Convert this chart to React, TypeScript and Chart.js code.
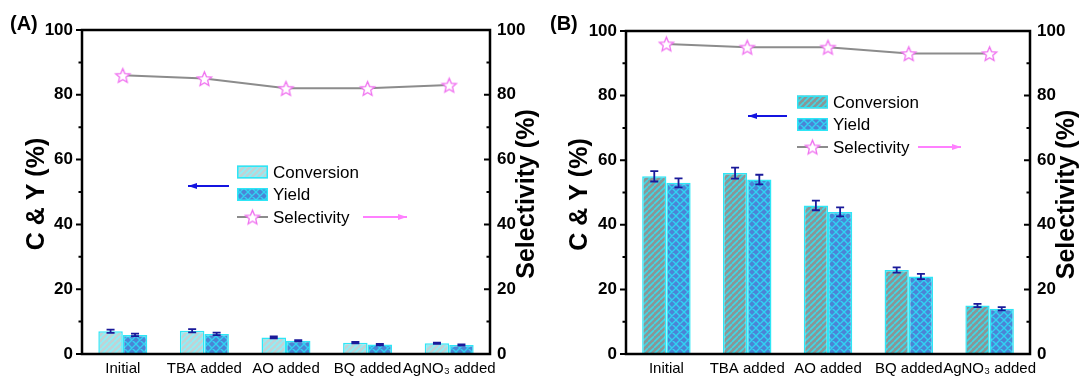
import React, { useEffect, useRef } from 'react';
import { Chart, registerables } from 'chart.js';

Chart.register(...registerables);
Chart.defaults.font.family = "'Liberation Sans', Arial, sans-serif";
Chart.defaults.color = '#000';

// ---------- data ----------
const categories = ['Initial', 'TBA added', 'AO added', 'BQ added', 'AgNO\u2083 added'];
const yTickStep = 20;
const yMinorStep = 10;

const conversionA = [7.0, 7.2, 5.1, 3.5, 3.3];
const conversionErrA = [0.5, 0.5, 0.3, 0.2, 0.2];
const yieldA = [5.9, 6.2, 4.1, 2.9, 2.8];
const yieldErrA = [0.4, 0.4, 0.2, 0.2, 0.2];
const selectivityA = [86, 85, 82, 82, 83];

const conversionB = [55, 56, 46, 26, 15];
const conversionErrB = [1.6, 1.7, 1.5, 0.8, 0.5];
const yieldB = [53, 54, 44, 24, 14];
const yieldErrB = [1.4, 1.5, 1.4, 0.8, 0.5];
const selectivityB = [96, 95, 95, 93, 93];

const legendLabels = ['Conversion', 'Yield', 'Selectivity'];
const leftTitle = 'C & Y (%)';
const rightTitle = 'Selectivity (%)';

// ---------- helpers ----------
function stripePattern(base: string, stripe: string, size = 6, lw = 1.6) {
  const c = document.createElement('canvas');
  c.width = size;
  c.height = size;
  const g = c.getContext('2d')!;
  g.fillStyle = base;
  g.fillRect(0, 0, size, size);
  g.strokeStyle = stripe;
  g.lineWidth = lw;
  g.beginPath();
  for (let k = -1; k <= 1; k++) {
    g.moveTo(k * size, size);
    g.lineTo(k * size + size, 0);
  }
  g.stroke();
  return g.createPattern(c, 'repeat')!;
}

function latticePattern(base: string, line: string, size = 8, lw = 1.4) {
  const c = document.createElement('canvas');
  c.width = size;
  c.height = size;
  const g = c.getContext('2d')!;
  g.fillStyle = base;
  g.fillRect(0, 0, size, size);
  g.strokeStyle = line;
  g.lineWidth = lw;
  g.beginPath();
  for (let k = -1; k <= 1; k++) {
    g.moveTo(k * size, size);
    g.lineTo(k * size + size, 0);
    g.moveTo(k * size, 0);
    g.lineTo(k * size + size, size);
  }
  g.stroke();
  return g.createPattern(c, 'repeat')!;
}

function starImage(color: string, r = 7.5) {
  const s = Math.ceil(r * 2 + 4);
  const c = document.createElement('canvas');
  c.width = s;
  c.height = s;
  const g = c.getContext('2d')!;
  const cx = s / 2;
  const cy = s / 2 + 0.8;
  g.beginPath();
  for (let i = 0; i < 10; i++) {
    const a = -Math.PI / 2 + (i * Math.PI) / 5;
    const rr = i % 2 === 0 ? r : r * 0.45;
    g.lineTo(cx + rr * Math.cos(a), cy + rr * Math.sin(a));
  }
  g.closePath();
  g.fillStyle = '#ffffff';
  g.fill();
  g.strokeStyle = color;
  g.lineWidth = 1.3;
  g.stroke();
  return c;
}

function arrow(ctx: CanvasRenderingContext2D, x0: number, x1: number, y: number, color: string, dir: 'left' | 'right') {
  ctx.save();
  ctx.strokeStyle = color;
  ctx.fillStyle = color;
  ctx.lineWidth = 1.8;
  ctx.beginPath();
  ctx.moveTo(x0, y);
  ctx.lineTo(x1, y);
  ctx.stroke();
  const tip = dir === 'left' ? x0 : x1;
  const back = dir === 'left' ? tip + 9 : tip - 9;
  ctx.beginPath();
  ctx.moveTo(tip, y);
  ctx.lineTo(back, y - 3);
  ctx.lineTo(back, y + 3);
  ctx.closePath();
  ctx.fill();
  ctx.restore();
}

type PanelCfg = {
  left: number;
  width: number;
  label: string;
  leftW: number;
  rightW: number;
  top: number;
  conv: number[];
  convErr: number[];
  yld: number[];
  yldErr: number[];
  sel: number[];
  convBase: string;
  convStripe: string;
  leftTitleX: number;
  rightTitleX: number;
  legendX: number;
  legendY: number;
  blueArrow: [number, number, number];
  pinkArrow: [number, number, number];
};

const panelA: PanelCfg = {
  left: 0,
  width: 540,
  label: '(A)',
  leftW: 82,
  rightW: 50,
  top: 30,
  conv: conversionA,
  convErr: conversionErrA,
  yld: yieldA,
  yldErr: yieldErrA,
  sel: selectivityA,
  convBase: '#bfd3d6',
  convStripe: '#8cf0f8',
  leftTitleX: 37,
  rightTitleX: 527,
  legendX: 237,
  legendY: 172,
  blueArrow: [188, 229, 186],
  pinkArrow: [363, 407, 217],
};

const panelB: PanelCfg = {
  left: 540,
  width: 541,
  label: '(B)',
  leftW: 86,
  rightW: 51,
  top: 31,
  conv: conversionB,
  convErr: conversionErrB,
  yld: yieldB,
  yldErr: yieldErrB,
  sel: selectivityB,
  convBase: '#8a9696',
  convStripe: '#40d8e6',
  leftTitleX: 40,
  rightTitleX: 527,
  legendX: 257,
  legendY: 102,
  blueArrow: [208, 247, 116],
  pinkArrow: [378, 421, 147],
};

const CYAN = '#2ee6f6';
const ERR = '#1a1a9a';
const LINE_GRAY = '#8c8c8c';
const STAR = '#f070f0';

function Panel({ cfg }: { cfg: PanelCfg }) {
  const ref = useRef<HTMLCanvasElement>(null);
  useEffect(() => {
    const canvas = ref.current!;
    const convPat = stripePattern(cfg.convBase, cfg.convStripe, 6, 1.6);
    const yldPat = latticePattern('#4b84d6', '#30d2f2', 8, 1.4);
    const star = starImage(STAR, 7.5);

    const decor = {
      id: 'decor',
      afterDatasetsDraw(chart: any) {
        const ctx: CanvasRenderingContext2D = chart.ctx;
        const ys = chart.scales.y;
        const errs = [cfg.convErr, cfg.yldErr];
        ctx.save();
        ctx.strokeStyle = ERR;
        ctx.lineWidth = 1.8;
        [0, 1].forEach((di) => {
          const meta = chart.getDatasetMeta(di);
          const data = chart.data.datasets[di].data as number[];
          meta.data.forEach((el: any, j: number) => {
            const v = data[j];
            const e = errs[di][j];
            const yt = ys.getPixelForValue(v + e);
            const yb = ys.getPixelForValue(v - e);
            const x = el.x;
            ctx.beginPath();
            ctx.moveTo(x, yt);
            ctx.lineTo(x, yb);
            ctx.moveTo(x - 4, yt);
            ctx.lineTo(x + 4, yt);
            ctx.moveTo(x - 4, yb);
            ctx.lineTo(x + 4, yb);
            ctx.stroke();
          });
        });
        ctx.restore();
      },
      afterDraw(chart: any) {
        const ctx: CanvasRenderingContext2D = chart.ctx;
        const a = chart.chartArea;
        const ys = chart.scales.y;
        ctx.save();
        // frame
        ctx.strokeStyle = '#000';
        ctx.lineWidth = 2.5;
        ctx.strokeRect(a.left, a.top, a.right - a.left, a.bottom - a.top);
        // ticks
        ctx.lineWidth = 2;
        for (let v = 0; v <= 100; v += yMinorStep) {
          const y = ys.getPixelForValue(v);
          const len = v % yTickStep === 0 ? 6 : 3.5;
          ctx.beginPath();
          ctx.moveTo(a.left - len, y);
          ctx.lineTo(a.left, y);
          ctx.moveTo(a.right - len, y);
          ctx.lineTo(a.right, y);
          ctx.stroke();
        }
        // axis titles
        ctx.fillStyle = '#000';
        ctx.font = "bold 25px 'Liberation Sans', Arial, sans-serif";
        ctx.textAlign = 'center';
        ctx.textBaseline = 'middle';
        const cy = (a.top + a.bottom) / 2 + 2;
        ctx.save();
        ctx.translate(cfg.leftTitleX, cy);
        ctx.rotate(-Math.PI / 2);
        ctx.fillText(leftTitle, 0, 0);
        ctx.restore();
        ctx.save();
        ctx.translate(cfg.rightTitleX, cy);
        ctx.rotate(-Math.PI / 2);
        ctx.fillText(rightTitle, 0, 0);
        ctx.restore();
        // panel label
        ctx.font = "bold 20px 'Liberation Sans', Arial, sans-serif";
        ctx.textAlign = 'left';
        ctx.fillText(cfg.label, 10, 24);
        // legend
        const lx = cfg.legendX;
        const ly = cfg.legendY;
        const sw = 31;
        const sh = 13;
        const gap = 22.5;
        const pats = [convPat, yldPat];
        ctx.font = "17px 'Liberation Sans', Arial, sans-serif";
        for (let i = 0; i < 2; i++) {
          const yy = ly + i * gap;
          ctx.fillStyle = pats[i];
          ctx.fillRect(lx, yy - sh / 2, sw, sh);
          ctx.strokeStyle = CYAN;
          ctx.lineWidth = 1.5;
          ctx.strokeRect(lx + 0.75, yy - sh / 2 + 0.75, sw - 1.5, sh - 1.5);
          ctx.fillStyle = '#000';
          ctx.fillText(legendLabels[i], lx + sw + 5, yy + 1);
        }
        const y3 = ly + 2 * gap;
        ctx.strokeStyle = LINE_GRAY;
        ctx.lineWidth = 2;
        ctx.beginPath();
        ctx.moveTo(lx, y3);
        ctx.lineTo(lx + sw, y3);
        ctx.stroke();
        ctx.drawImage(star, lx + sw / 2 - star.width / 2, y3 - star.height / 2);
        ctx.fillStyle = '#000';
        ctx.fillText(legendLabels[2], lx + sw + 5, y3 + 1);
        arrow(ctx, cfg.blueArrow[0], cfg.blueArrow[1], cfg.blueArrow[2], '#1414e0', 'left');
        arrow(ctx, cfg.pinkArrow[0], cfg.pinkArrow[1], cfg.pinkArrow[2], '#ff80ff', 'right');
        ctx.restore();
      },
    };

    const chart = new Chart(canvas, {
      type: 'bar',
      data: {
        labels: categories,
        datasets: [
          {
            type: 'bar',
            label: legendLabels[0],
            data: cfg.conv,
            backgroundColor: convPat as any,
            borderColor: CYAN,
            borderWidth: 1.5,
            categoryPercentage: 0.6,
            barPercentage: 1.0,
            yAxisID: 'y',
          },
          {
            type: 'bar',
            label: legendLabels[1],
            data: cfg.yld,
            backgroundColor: yldPat as any,
            borderColor: CYAN,
            borderWidth: 1.5,
            categoryPercentage: 0.6,
            barPercentage: 1.0,
            yAxisID: 'y',
          },
          {
            type: 'line',
            label: legendLabels[2],
            data: cfg.sel,
            borderColor: LINE_GRAY,
            borderWidth: 2,
            pointStyle: star as any,
            pointRadius: 8,
            yAxisID: 'y1',
          } as any,
        ],
      },
      options: {
        responsive: false,
        animation: false,
        events: [],
        layout: { padding: { top: cfg.top, left: 0, right: 0, bottom: 0 } },
        plugins: { legend: { display: false }, tooltip: { enabled: false } },
        scales: {
          x: {
            type: 'category',
            grid: { display: false, drawTicks: false },
            border: { display: false },
            ticks: { color: '#000', font: { size: 15 }, padding: 6, maxRotation: 0, autoSkip: false },
            afterFit: (s: any) => {
              s.height = 27;
            },
          },
          y: {
            position: 'left',
            min: 0,
            max: 100,
            ticks: { stepSize: yTickStep, color: '#000', font: { size: 17, weight: 'bold' }, padding: 9 },
            grid: { display: false, drawTicks: false },
            border: { display: false },
            afterFit: (s: any) => {
              s.width = cfg.leftW;
            },
          },
          y1: {
            position: 'right',
            min: 0,
            max: 100,
            ticks: { stepSize: yTickStep, color: '#000', font: { size: 17, weight: 'bold' }, padding: 7 },
            grid: { display: false, drawTicks: false },
            border: { display: false },
            afterFit: (s: any) => {
              s.width = cfg.rightW;
            },
          },
        },
      } as any,
      plugins: [decor],
    });
    return () => chart.destroy();
  }, []);
  return (
    <canvas
      ref={ref}
      width={cfg.width}
      height={381}
      style={{ position: 'absolute', left: cfg.left, top: 0, width: cfg.width, height: 381 }}
    />
  );
}

export default function App() {
  return (
    <div style={{ position: 'absolute', left: 0, top: 0, width: 1081, height: 381, background: '#fff', overflow: 'hidden' }}>
      <Panel cfg={panelA} />
      <Panel cfg={panelB} />
    </div>
  );
}
